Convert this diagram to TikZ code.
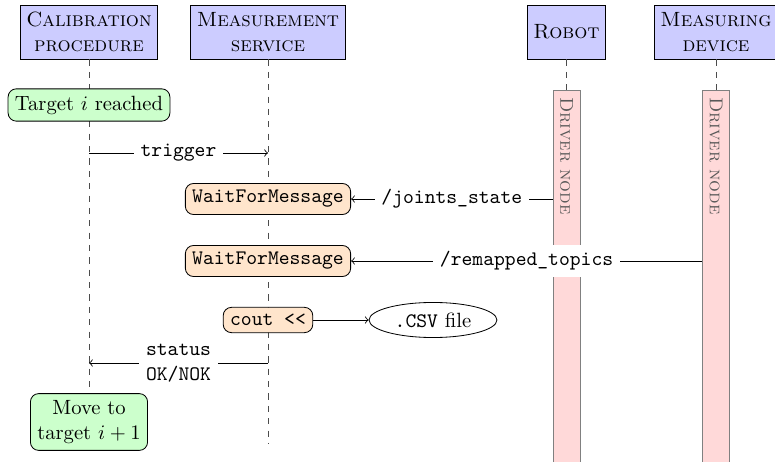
\documentclass[tikz,border=0pt]{standalone}
\usetikzlibrary{shapes.geometric}
\begin{document}
\begin{tikzpicture}[x=0.485pt, y=-0.485pt,
  actor/.style={draw, fill=blue!20, minimum height=26.2pt, align=center, inner sep=3pt},
  life/.style={dashed, black!70},
  act/.style={draw, rounded corners=4pt, fill=green!20, align=center},
  call/.style={draw, rounded corners=4pt, fill=orange!20, font=\ttfamily},
  msg/.style={->},
  lbl/.style={fill=white, font=\ttfamily, midway, align=center},
  bar/.style={draw=gray, fill=red!15, minimum width=13.1pt, minimum height=200pt, anchor=north, inner sep=0pt},
  bartext/.style={rotate=-90, anchor=west, text=black!65, font=\small}
]
\useasboundingbox (0,0) rectangle (775,462);

% participants
\node[actor] (cal)  at (89,32)  {\textsc{Calibration}\\\textsc{procedure}};
\node[actor] (meas) at (268,32) {\textsc{Measurement}\\\textsc{service}};
\node[actor] (rob)  at (566.5,32) {\textsc{Robot}};
\node[actor] (dev)  at (716,32) {\textsc{Measuring}\\\textsc{device}};

% driver nodes
\node[bar] (rbar) at (566.5,90) {};
\node[bar] (dbar) at (716,90) {};
\node[bartext] at (rbar.north) {\textsc{Driver node}};
\node[bartext] at (dbar.north) {\textsc{Driver node}};

% lifelines
\coordinate (calend) at (89,393);
\coordinate (measend) at (268,443);
\draw[life] (cal.south) -- (calend);
\draw[life] (meas.south) -- (measend);
\draw[life] (rob.south) -- (rbar.north);
\draw[life] (dev.south) -- (dbar.north);

% activities
\node[act] (reached) at (89,105) {Target $i$ reached};
\node[call] (wait1) at (268,199) {WaitForMessage};
\node[call] (wait2) at (268,261) {WaitForMessage};
\node[call] (cout) at (268,320) {cout <{}<};
\node[draw, ellipse, inner sep=2pt, minimum width=62pt, minimum height=17pt] (csv) at (433,320) {\texttt{.CSV} file};
\node[act] (move) at (89,422) {Move to\\target $i+1$};

% messages
\coordinate (trigA) at (89,153);
\coordinate (trigB) at (268,153);
\draw[msg] (trigA) -- node[lbl] {trigger} (trigB);
\draw[msg] (rbar.west |- wait1) -- node[lbl] {/joints\_state} (wait1.east);
\draw[msg] (dbar.west |- wait2) -- node[lbl] {/remapped\_topics} (wait2.east);
\draw[msg] (cout.east) -- (csv.west);
\coordinate (statA) at (268,363);
\coordinate (statB) at (89,363);
\draw[msg] (statA) -- node[lbl] {status\\OK/NOK} (statB);
\end{tikzpicture}
\end{document}
